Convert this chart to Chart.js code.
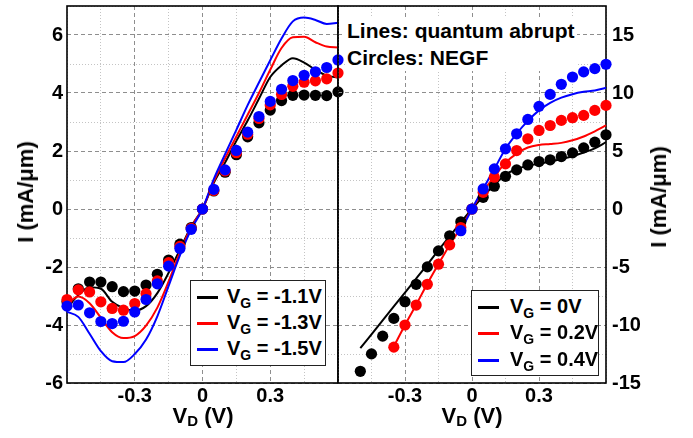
<!DOCTYPE html>
<html><head><meta charset="utf-8">
<script src="https://cdn.jsdelivr.net/npm/chart.js@4.4.0/dist/chart.umd.min.js"></script>
<style>
html,body{margin:0;padding:0;background:#fff;}
#wrap{position:relative;width:693px;height:438px;overflow:hidden;font-family:"Liberation Sans",Arial,sans-serif;font-weight:bold;color:#000;}
canvas{position:absolute;top:0;}
#cL{left:0;width:350px;height:438px;}
#cR{left:330px;width:363px;height:438px;}
.ytitle{position:absolute;font-size:22px;line-height:22px;white-space:nowrap;transform:translate(-50%,-50%) rotate(-90deg);}
.xtitle{position:absolute;font-size:22px;line-height:22px;white-space:nowrap;transform:translateX(-50%);}
.xtitle sub{font-size:15px;position:relative;top:3px;vertical-align:baseline;}
#note{position:absolute;left:345px;top:17px;font-size:21px;line-height:27px;background:#fff;padding:0 2px;white-space:nowrap;}
.legend{position:absolute;background:#fff;border:1.5px solid #222;box-sizing:border-box;}
.row{position:absolute;left:0;height:20px;line-height:20px;font-size:20px;white-space:nowrap;}
.row .ln{position:absolute;top:10px;width:21px;height:3px;}
.row .lt{position:absolute;top:0;}
.row sub{font-size:14px;position:relative;top:5px;vertical-align:baseline;}
</style>
</head>
<body>
<div id="wrap">
  <canvas id="cL" width="350" height="438"></canvas>
  <canvas id="cR" width="363" height="438"></canvas>
  <div class="ytitle" style="left:26px;top:192px">I (mA/μm)</div>
  <div class="ytitle" style="left:659px;top:197px">I (mA/μm)</div>
  <div class="xtitle" style="left:203px;top:405px">V<sub>D</sub> (V)</div>
  <div class="xtitle" style="left:472px;top:405px">V<sub>D</sub> (V)</div>
  <div id="note">Lines: quantum abrupt<br>Circles: NEGF</div>
  <div class="legend" id="legL" style="left:190px;top:280px;width:136px;height:86px"></div>
  <div class="legend" id="legR" style="left:471px;top:290px;width:128px;height:86px"></div>
</div>
<script>
// ---------------- data ----------------
const VD = [-0.6,-0.55,-0.5,-0.45,-0.4,-0.35,-0.3,-0.25,-0.2,-0.15,-0.1,-0.05,0,0.05,0.1,0.15,0.2,0.25,0.3,0.35,0.4,0.45,0.5,0.55,0.6];

// left panel: V_G = -1.1, -1.3, -1.5 V
const leftNames = ['-1.1V','-1.3V','-1.5V'];
const lineL1 = [-3.42,-2.97,-2.7,-2.75,-3.2,-3.42,-3.5,-3.35,-2.9,-2.2,-1.4,-0.6,0,0.9,1.6,2.35,3.05,3.8,4.55,4.95,5.2,5.05,4.8,4.6,4.53];
const lineL2 = [-3.3,-3.02,-3.25,-3.75,-4.25,-4.45,-4.38,-4.02,-3.4,-2.5,-1.5,-0.62,0,0.95,1.75,2.5,3.25,4.0,4.8,5.55,5.92,5.94,5.75,5.6,5.57];
const lineL3 = [-3.55,-3.72,-4.3,-4.9,-5.25,-5.28,-5.0,-4.5,-3.7,-2.65,-1.6,-0.7,0,1.03,1.89,2.73,3.58,4.36,5.13,5.88,6.47,6.6,6.52,6.38,6.42];
const dotL1 = [-3.2,-2.75,-2.52,-2.52,-2.68,-2.85,-2.83,-2.62,-2.25,-1.76,-1.21,-0.64,0,0.62,1.27,1.87,2.49,2.97,3.41,3.74,3.92,3.93,3.92,3.91,4.04];
const dotL2 = [-3.12,-2.79,-2.86,-3.2,-3.43,-3.49,-3.26,-2.92,-2.48,-1.85,-1.29,-0.67,0,0.64,1.31,1.94,2.58,3.12,3.59,3.95,4.23,4.37,4.42,4.49,4.69];
const dotL3 = [-3.35,-3.31,-3.58,-3.88,-3.95,-3.87,-3.55,-3.12,-2.58,-1.97,-1.36,-0.7,0,0.68,1.35,2.02,2.65,3.19,3.71,4.13,4.43,4.61,4.73,4.88,5.14];

// right panel: V_G = 0, 0.2, 0.4 V
const rightNames = ['0V','0.2V','0.4V'];
const lineR1 = [null,null,-12.0,-10.8,-9.6,-8.4,-7.2,-6.0,-4.8,-3.55,-2.35,-1.15,0,1.1,2.07,2.97,3.44,3.73,3.9,4.07,4.3,4.55,4.87,5.23,5.76];
const lineR2 = [null,null,null,null,null,-11.85,-10.0,-8.25,-6.45,-4.75,-3.1,-1.6,0,1.52,2.78,4.0,4.78,5.3,5.52,5.6,5.7,5.92,6.25,6.7,7.2];
const lineR3 = [null,null,null,null,null,null,null,null,null,null,null,-1.87,0,1.75,3.45,5.2,6.5,7.6,8.5,9.15,9.6,9.9,10.1,10.22,10.45];
const dotR1 = [null,null,-13.99,-12.49,-10.96,-9.43,-7.99,-6.49,-4.99,-3.61,-2.31,-1.1,0,1.01,1.96,2.82,3.37,3.8,4.09,4.24,4.52,4.84,5.27,5.76,6.4];
const dotR2 = [null,null,null,null,null,-11.91,-10.0,-8.28,-6.49,-4.76,-3.09,-1.6,0,1.44,2.74,3.89,5.04,6.05,6.77,7.2,7.64,7.87,8.07,8.5,8.93];
const dotR3 = [null,null,null,null,null,null,null,null,null,null,null,-1.87,0,1.73,3.46,5.19,6.48,7.72,8.85,9.88,10.75,11.38,11.82,12.1,12.48];

// ticks
const xTickValues = [-0.3, 0, 0.3];
const xTickLabels = ['-0.3','0','0.3'];
const yLeftTickValues = [-6,-4,-2,0,2,4,6];
const yLeftTickLabels = ['-6','-4','-2','0','2','4','6'];
const yRightTickValues = [-15,-10,-5,0,5,10,15];
const yRightTickLabels = ['-15','-10','-5','0','5','10','15'];

// ---------------- helpers ----------------
const COLORS = ['#000000','#ff0000','#0000ff'];
function pts(ys){ const o=[]; ys.forEach((y,i)=>{ if(y!==null) o.push({x:VD[i],y:y}); }); return o; }
function idxOf(vals,v){ return vals.findIndex(t=>Math.abs(t-v)<1e-6); }
function lbl(vals,labels){ return v => { const i=idxOf(vals,v); return i>=0?labels[i]:''; }; }
function isMajor(vals){ return ctx => ctx.tick && idxOf(vals,ctx.tick.value)>=0; }

const tickFont = {family:'"Liberation Sans", Arial, sans-serif', size:20, weight:'bold'};

function gridCfg(vals){
  const maj = isMajor(vals);
  return {
    grid:{drawTicks:false, lineWidth:1, color: ctx => maj(ctx) ? '#8e8e8e' : '#c4c4c4'},
    border:{display:false, dash: ctx => maj(ctx) ? [4,3] : [1,2]}
  };
}

const framePlugin = {
  id:'frame',
  beforeDatasetsDraw(chart){
    const {ctx, chartArea:a} = chart;
    ctx.save();
    ctx.strokeStyle='#000'; ctx.lineWidth=1.6;
    ctx.strokeRect(a.left, a.top, a.right-a.left, a.bottom-a.top);
    ctx.restore();
  }
};

function datasets(lines, dots){
  const ds=[];
  lines.forEach((l,k)=>ds.push({data:pts(l), showLine:true, borderColor:COLORS[k], borderWidth:2, pointRadius:0, cubicInterpolationMode:'monotone', clip:false, order:6-k}));
  dots.forEach((d,k)=>ds.push({data:pts(d), showLine:false, pointRadius:5.6, pointBackgroundColor:COLORS[k], pointBorderWidth:0, clip:false, order:3-k}));
  return ds;
}

function noPad(s){ s.paddingTop=0; s.paddingBottom=0; s.paddingLeft=0; s.paddingRight=0; }

function xScale(){
  const g = gridCfg(xTickValues);
  return Object.assign({type:'linear', min:-0.6, max:0.6,
    ticks:{stepSize:0.15, autoSkip:false, maxRotation:0, padding:1, color:'#000', font:tickFont, callback:lbl(xTickValues,xTickLabels)},
    afterFit: s => { s.height = 55; noPad(s); }
  }, g);
}

// ---------------- left chart ----------------
new Chart(document.getElementById('cL'), {
  type:'scatter',
  data:{datasets:datasets([lineL1,lineL2,lineL3],[dotL1,dotL2,dotL3])},
  options:{
    responsive:false, maintainAspectRatio:false, animation:false,
    layout:{padding:{left:0, top:6, right:12, bottom:0}},
    plugins:{legend:{display:false}, tooltip:{enabled:false}},
    scales:{
      x: xScale(),
      y: Object.assign({type:'linear', position:'left', min:-6, max:7,
        ticks:{stepSize:1, autoSkip:false, padding:4, color:'#000', font:tickFont, callback:lbl(yLeftTickValues,yLeftTickLabels)},
        afterFit: s => { s.width = 67; noPad(s); }
      }, gridCfg(yLeftTickValues))
    }
  },
  plugins:[framePlugin]
});

// ---------------- right chart ----------------
new Chart(document.getElementById('cR'), {
  type:'scatter',
  data:{datasets:datasets([lineR1,lineR2,lineR3],[dotR1,dotR2,dotR3])},
  options:{
    responsive:false, maintainAspectRatio:false, animation:false,
    layout:{padding:{left:8, top:6, right:0, bottom:0}},
    plugins:{legend:{display:false}, tooltip:{enabled:false}},
    scales:{
      x: xScale(),
      y: Object.assign({type:'linear', position:'right', min:-15, max:17.5,
        ticks:{stepSize:2.5, autoSkip:false, padding:6, color:'#000', font:tickFont, callback:lbl(yRightTickValues,yRightTickLabels)},
        afterFit: s => { s.width = 87; noPad(s); }
      }, gridCfg(yRightTickValues))
    }
  },
  plugins:[framePlugin]
});

// ---------------- legends ----------------
function buildLegend(id, names, rowTops, textLeft){
  const box = document.getElementById(id);
  names.forEach((n,k)=>{
    const r = document.createElement('div');
    r.className='row';
    r.style.top = (rowTops[k]-11.5)+'px';
    r.style.width='100%';
    const ln = document.createElement('span');
    ln.className='ln'; ln.style.left='6px'; ln.style.background=COLORS[k];
    const t = document.createElement('span');
    t.className='lt'; t.style.left=textLeft+'px';
    t.innerHTML = 'V<sub>G</sub> = ' + n;
    r.appendChild(ln); r.appendChild(t);
    box.appendChild(r);
  });
}
buildLegend('legL', leftNames, [16, 42, 68.5], 36);
buildLegend('legR', rightNames, [16, 42.5, 69.5], 38);
</script>
</body></html>
